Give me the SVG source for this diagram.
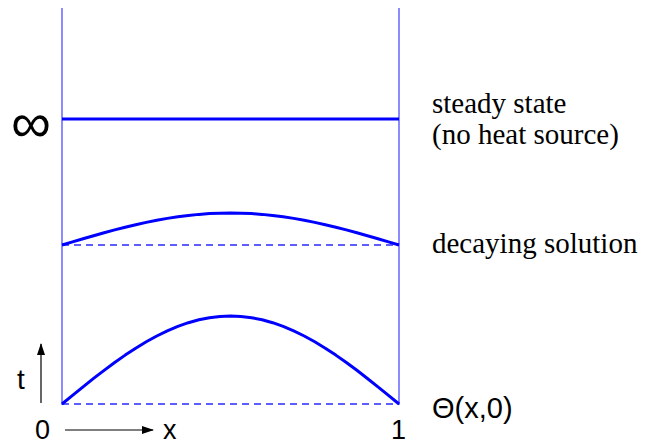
<svg xmlns="http://www.w3.org/2000/svg" width="648" height="445" viewBox="0 0 648 445">
<style>
.wall{stroke:#6f6fff;stroke-width:1.6;fill:none}
.curve{stroke:#0000ff;stroke-width:3;fill:none;stroke-linejoin:round}
.dash{stroke:#2a2aff;stroke-width:1.3;stroke-dasharray:7,5;fill:none}
.axis{stroke:#000;stroke-width:1.2;fill:none}
.serif{font-family:"Liberation Serif",serif;font-size:29px;fill:#000}
.sans{font-family:"Liberation Sans",sans-serif;font-size:28px;fill:#000}
.tick{font-family:"Liberation Sans",sans-serif;font-size:27px;fill:#000}
</style>
<defs>
<marker id="ah" markerWidth="12" markerHeight="8" refX="11" refY="4" orient="auto" markerUnits="userSpaceOnUse">
<path d="M0,0 L12,4 L0,8 Z" fill="#000"/>
</marker>
</defs>
<g id="walls">
<line class="wall" x1="62" y1="8" x2="62" y2="405"/>
<line class="wall" x1="399" y1="8" x2="399" y2="405"/>
</g>
<g id="connectors">
<line class="axis" x1="41" y1="403" x2="41" y2="344" marker-end="url(#ah)"/>
<line class="axis" x1="65" y1="430" x2="153" y2="430" marker-end="url(#ah)"/>
<line class="dash" x1="62" y1="245" x2="399" y2="245"/>
<line class="dash" x1="62" y1="404" x2="399" y2="404"/>
</g>
<g id="steady">
<line class="curve" x1="62" y1="119" x2="399" y2="119"/>
</g>
<g id="decaying">
<polyline class="curve" points="62,245 72.53,241.86 83.06,238.76 93.59,235.71 104.13,232.75 114.66,229.92 125.19,227.22 135.72,224.70 146.25,222.37 156.78,220.26 167.31,218.39 177.84,216.78 188.38,215.44 198.91,214.38 209.44,213.61 219.97,213.15 230.5,213 241.03,213.15 251.56,213.61 262.09,214.38 272.63,215.44 283.16,216.78 293.69,218.39 304.22,220.26 314.75,222.37 325.28,224.70 335.81,227.22 346.34,229.92 356.88,232.75 367.41,235.71 377.94,238.76 388.47,241.86 399,245"/>
</g>
<g id="initial">
<polyline class="curve" points="62,404 72.53,395.38 83.06,386.83 93.59,378.45 104.13,370.32 114.66,362.52 125.19,355.11 135.72,348.17 146.25,341.78 156.78,335.98 167.31,330.83 177.84,326.39 188.38,322.70 198.91,319.79 209.44,317.69 219.97,316.42 230.5,316 241.03,316.42 251.56,317.69 262.09,319.79 272.63,322.70 283.16,326.39 293.69,330.83 304.22,335.98 314.75,341.78 325.28,348.17 335.81,355.11 346.34,362.52 356.88,370.32 367.41,378.45 377.94,386.83 388.47,395.38 399,404"/>
</g>
<g id="labels">
<text class="sans" x="11" y="142" style="font-size:56px">∞</text>
<text class="serif" x="432" y="113">steady state</text>
<text class="serif" x="432" y="144">(no heat source)</text>
<text class="serif" x="432" y="253">decaying solution</text>
<text class="sans" x="432" y="418" style="font-size:29px">Θ(x,0)</text>
<text class="sans" x="17" y="389">t</text>
<text class="tick" x="35" y="439">0</text>
<text class="tick" x="163" y="439">x</text>
<text class="tick" x="391" y="439">1</text>
</g>
</svg>
